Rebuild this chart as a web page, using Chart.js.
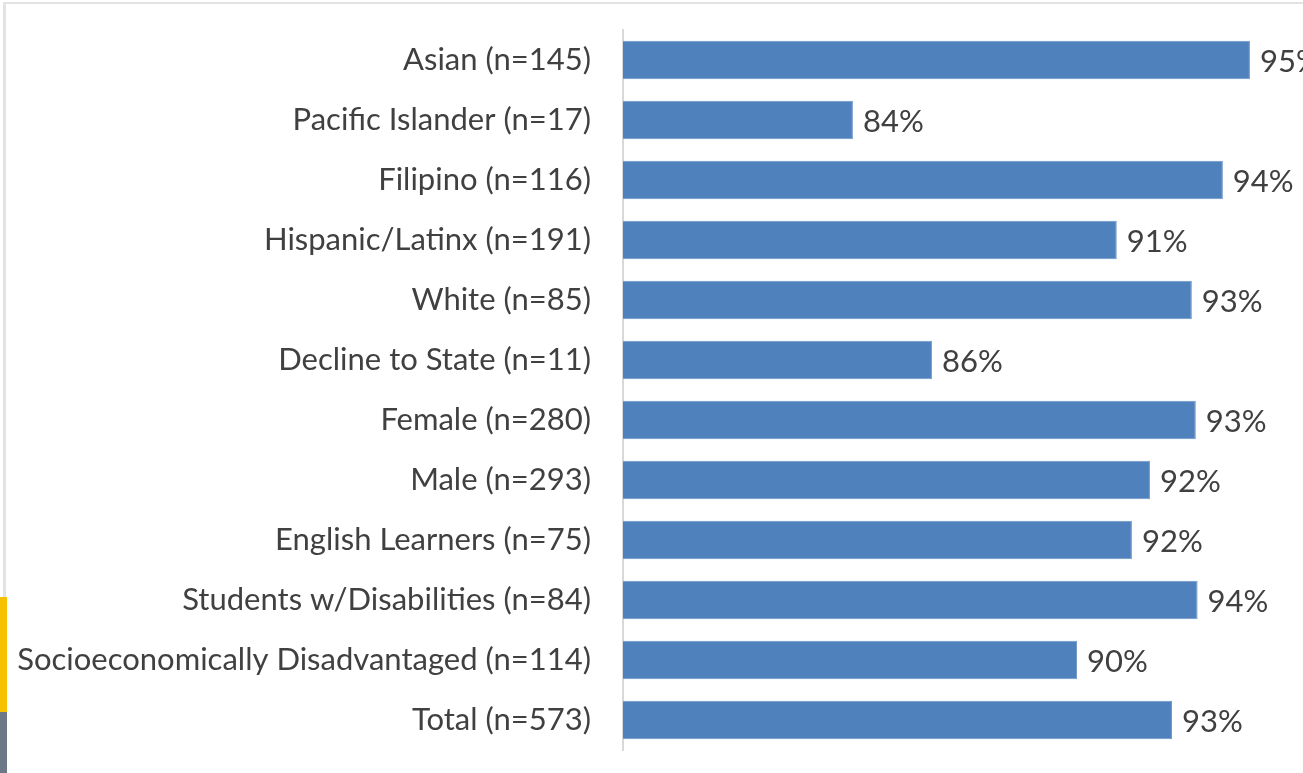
<!DOCTYPE html>
<html>
<head>
<meta charset="utf-8">
<script src="https://cdn.jsdelivr.net/npm/chart.js@4"></script>
<style>
  html, body { margin: 0; padding: 0; background: #ffffff; overflow: hidden; }
  #wrap { position: relative; width: 1303px; height: 773px; }
  #rate-chart { position: absolute; left: 0; top: 0; }
  .frame-top { position: absolute; left: 4px; top: 2px; width: 1299px; height: 2px; background: #e3e3e3; }
  .frame-left { position: absolute; left: 3px; top: 2px; width: 3px; height: 596px; background: #e3e3e3; }
  .deco-yellow { position: absolute; left: 0; top: 597px; width: 7px; height: 118px; background: #f6c200; }
  .deco-grey { position: absolute; left: 0; top: 712px; width: 7px; height: 61px; background: #6d7886; }
</style>
</head>
<body>
<div id="wrap">
  <div class="frame-top"></div>
  <div class="frame-left"></div>
  <div class="deco-yellow"></div>
  <div class="deco-grey"></div>
  <canvas id="rate-chart" width="1303" height="773"></canvas>
</div>
<script>
const groups = [
    'Asian (n=145)',
    'Pacific Islander (n=17)',
    'Filipino (n=116)',
    'Hispanic/Latinx (n=191)',
    'White (n=85)',
    'Decline to State (n=11)',
    'Female (n=280)',
    'Male (n=293)',
    'English Learners (n=75)',
    'Students w/Disabilities (n=84)',
    'Socioeconomically Disadvantaged (n=114)',
    'Total (n=573)'
];

// percent values (labels show them rounded)
const rates = [94.97, 83.97, 94.22, 91.28, 93.36, 86.16, 93.47, 92.20, 91.70, 93.52, 90.18, 92.81];

const axis_min = 77.6;
const axis_max = 96.44;

const font_family = 'Lato, "Open Sans", sans-serif';
const font_size = 31;
const text_color = '#404040';

// draws the "95%" style labels at the end of each bar
const bar_labels = {
    id: 'bar_labels',
    afterDatasetsDraw(chart) {
        const ctx = chart.ctx;
        const meta = chart.getDatasetMeta(0);
        ctx.save();
        ctx.font = `${font_size}px ${font_family}`;
        ctx.fillStyle = text_color;
        ctx.textAlign = 'left';
        ctx.textBaseline = 'middle';
        meta.data.forEach((bar, i) => {
            const value = chart.data.datasets[0].data[i];
            ctx.fillText(Math.round(value) + '%', bar.x + 10, bar.y + 2);
        });
        ctx.restore();
    }
};

const canvas = document.getElementById('rate-chart');

const chart = new Chart(canvas, {
    type: 'bar',
    data: {
        labels: groups,
        datasets: [
            {
                data: rates,
                backgroundColor: '#4f81bd',
                borderColor: '#6f97c8',
                borderWidth: 1,
                borderSkipped: 'start',
                categoryPercentage: 1.0,
                barPercentage: 0.64
            }
        ]
    },
    options: {
        indexAxis: 'y',
        responsive: false,
        animation: false,
        layout: {
            padding: { top: 30, bottom: 23, left: 0, right: 0 }
        },
        plugins: {
            legend: { display: false },
            tooltip: { enabled: false }
        },
        scales: {
            x: {
                display: false,
                min: axis_min,
                max: axis_max
            },
            y: {
                afterFit(scale) {
                    scale.width = 623;
                },
                // invisible tick marks keep the labels away from the axis
                grid: {
                    drawOnChartArea: false,
                    drawTicks: true,
                    tickLength: 32,
                    tickColor: 'rgba(0,0,0,0)'
                },
                border: {
                    display: true,
                    color: '#d9d9d9',
                    width: 2
                },
                ticks: {
                    padding: 0,
                    color: text_color,
                    font: {
                        family: font_family,
                        size: font_size
                    }
                }
            }
        }
    },
    plugins: [bar_labels]
});
</script>
</body>
</html>
